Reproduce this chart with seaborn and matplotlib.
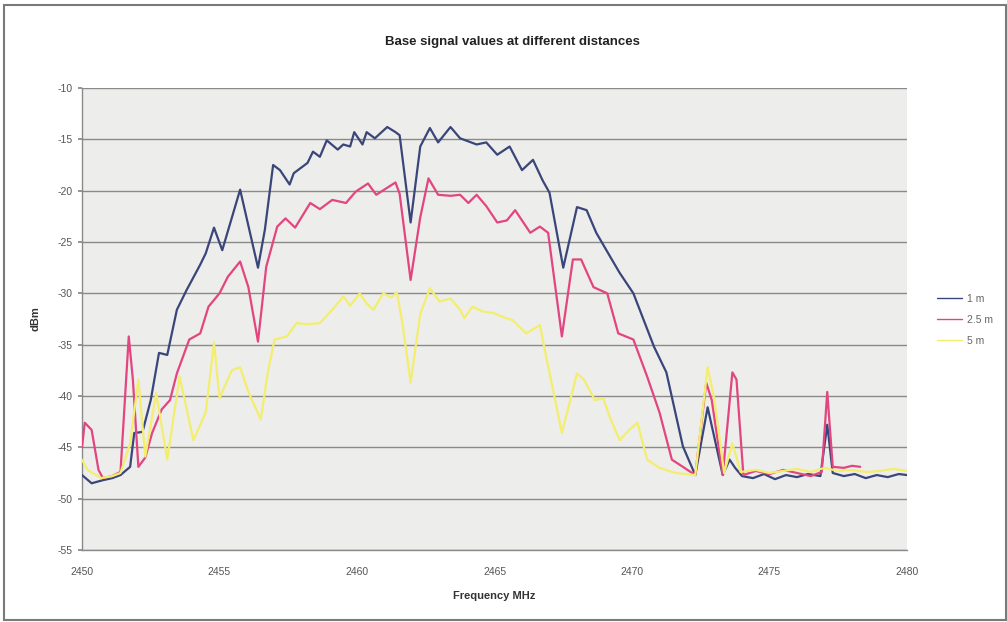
import numpy as np
import pandas as pd
import matplotlib
matplotlib.use("Agg")
import matplotlib.pyplot as plt
import seaborn as sns
from matplotlib.patches import Rectangle
from matplotlib.lines import Line2D

# ---- data ----
blue_f = [2450.0, 2450.35, 2450.76, 2451.1, 2451.4, 2451.75, 2451.9, 2452.2, 2452.5, 2452.8, 2453.1,
          2453.45, 2453.8, 2454.3, 2454.5, 2454.8, 2455.1, 2455.75, 2456.4, 2456.65, 2456.95, 2457.2,
          2457.55, 2457.7, 2458.2, 2458.4, 2458.65, 2458.9, 2459.3, 2459.5, 2459.75, 2459.9, 2460.2,
          2460.35, 2460.65, 2461.1, 2461.4, 2461.55, 2461.95, 2462.3, 2462.65, 2462.95, 2463.4, 2463.75,
          2464.35, 2464.7, 2465.1, 2465.55, 2466.0, 2466.4, 2466.75, 2467.0, 2467.5, 2468.0, 2468.35,
          2468.7, 2469.2, 2469.55, 2470.05, 2470.8, 2471.25, 2471.85, 2472.3, 2472.75, 2473.3, 2473.55,
          2473.75, 2474.0, 2474.4, 2474.8, 2475.2, 2475.6, 2476.0, 2476.4, 2476.85, 2477.1, 2477.3,
          2477.7, 2478.1, 2478.5, 2478.9, 2479.3, 2479.7, 2480.0]
blue_v = [-47.7, -48.5, -48.2, -48.0, -47.7, -46.9, -43.6, -43.5, -40.4, -35.8, -36.0,
          -31.6, -29.7, -27.2, -26.1, -23.6, -25.8, -19.9, -27.5, -23.8, -17.5, -18.0,
          -19.4, -18.3, -17.3, -16.2, -16.7, -15.1, -16.0, -15.5, -15.7, -14.3, -15.5,
          -14.3, -14.9, -13.8, -14.3, -14.6, -23.1, -15.7, -13.9, -15.3, -13.8, -14.9,
          -15.5, -15.3, -16.5, -15.7, -18.0, -17.0, -19.0, -20.2, -27.5, -21.6, -21.9,
          -24.1, -26.4, -28.0, -30.0, -35.2, -37.7, -44.9, -47.7, -41.1, -47.7, -46.2,
          -47.0, -47.8, -48.0, -47.6, -48.1, -47.7, -47.9, -47.6, -47.8, -42.8, -47.5,
          -47.8, -47.6, -48.0, -47.7, -47.9, -47.6, -47.7]

pink_f = [2450.0, 2450.1, 2450.35, 2450.6, 2450.76, 2451.1, 2451.4, 2451.7, 2451.85, 2452.05,
          2452.3, 2452.55, 2452.9, 2453.2, 2453.45, 2453.9, 2454.3, 2454.6, 2455.0, 2455.3, 2455.75,
          2456.05, 2456.4, 2456.7, 2457.1, 2457.4, 2457.75, 2458.3, 2458.65, 2459.1, 2459.6, 2459.95,
          2460.4, 2460.7, 2461.4, 2461.55, 2461.95, 2462.3, 2462.6, 2462.95, 2463.4, 2463.75, 2464.05,
          2464.35, 2464.7, 2465.1, 2465.45, 2465.75, 2466.3, 2466.65, 2466.95, 2467.45, 2467.85,
          2468.15, 2468.6, 2469.1, 2469.5, 2470.05, 2470.55, 2471.0, 2471.45, 2471.85, 2472.3, 2472.7,
          2472.9, 2473.3, 2473.65, 2473.8, 2474.05, 2474.5, 2475.0, 2475.5, 2476.0, 2476.5, 2476.9,
          2477.1, 2477.3, 2477.7, 2478.0, 2478.3]
pink_v = [-45.0, -42.6, -43.3, -47.2, -48.0, -47.8, -47.4, -34.2, -38.4, -46.9,
          -46.0, -43.6, -41.3, -40.4, -37.8, -34.5, -33.9, -31.3, -30.0, -28.4, -26.9,
          -29.4, -34.7, -27.4, -23.5, -22.7, -23.6, -21.2, -21.8, -20.9, -21.2, -20.1,
          -19.3, -20.4, -19.2, -20.3, -28.7, -22.6, -18.8, -20.4, -20.5, -20.4, -21.2,
          -20.4, -21.5, -23.1, -22.9, -21.9, -24.1, -23.5, -24.1, -34.2, -26.7,
          -26.7, -29.4, -30.0, -33.9, -34.5, -38.1, -41.6, -46.2, -46.9, -47.7, -38.7,
          -40.4, -47.7, -37.7, -38.4, -47.7, -47.3, -47.6, -47.2, -47.5, -47.8, -47.4,
          -39.6, -46.9, -47.0, -46.8, -46.9]

yel_f = [2450.0, 2450.2, 2450.7, 2451.1, 2451.4, 2451.75, 2452.05, 2452.3, 2452.7, 2453.1, 2453.55,
         2454.05, 2454.5, 2454.8, 2455.0, 2455.45, 2455.75, 2456.05, 2456.5, 2456.75, 2457.0, 2457.45,
         2457.8, 2458.2, 2458.65, 2459.1, 2459.5, 2459.75, 2460.1, 2460.35, 2460.6, 2460.95, 2461.25,
         2461.45, 2461.65, 2461.95, 2462.3, 2462.65, 2463.0, 2463.4, 2463.75, 2463.9, 2464.2, 2464.6,
         2464.95, 2465.3, 2465.65, 2466.15, 2466.65, 2466.85, 2467.45, 2468.0, 2468.25, 2468.65,
         2468.95, 2469.2, 2469.55, 2469.9, 2470.2, 2470.55, 2471.0, 2471.6, 2472.3, 2472.75, 2473.0,
         2473.35, 2473.65, 2473.95, 2474.5, 2475.0, 2475.5, 2476.0, 2476.5, 2477.0, 2477.5, 2478.0,
         2478.5, 2479.0, 2479.5, 2480.0]
yel_v = [-46.2, -47.2, -48.0, -47.8, -47.5, -44.6, -38.4, -45.9, -39.7, -46.2, -38.1,
         -44.3, -41.6, -34.8, -40.2, -37.5, -37.2, -39.6, -42.3, -37.8, -34.5, -34.2,
         -32.9, -33.0, -32.9, -31.6, -30.3, -31.2, -30.0, -31.0, -31.6, -30.0, -30.4,
         -29.9, -32.9, -38.7, -32.0, -29.5, -30.8, -30.5, -31.6, -32.4, -31.3, -31.8,
         -31.9, -32.3, -32.6, -33.9, -33.1, -35.8, -43.6, -37.8, -38.4, -40.4,
         -40.2, -42.1, -44.3, -43.3, -42.6, -46.2, -47.0, -47.5, -47.7, -37.2, -40.4,
         -47.5, -44.6, -47.4, -47.2, -47.5, -47.3, -47.1, -47.4, -47.0, -47.3, -47.2,
         -47.4, -47.3, -47.1, -47.3]

series_names = ["1 m", "2.5 m", "5 m"]
series_colors = ["#3a4679", "#e2457f", "#f3ee6e"]
x_ticks = [2450, 2455, 2460, 2465, 2470, 2475, 2480]
y_ticks = [-55, -50, -45, -40, -35, -30, -25, -20, -15, -10]

# ---- plotting ----
sns.set_theme(style="white")
plt.rcParams["font.family"] = ["Liberation Sans", "DejaVu Sans"]

fig = plt.figure(figsize=(10.07, 6.22), dpi=100)
fig.patch.set_facecolor("white")
ax = fig.add_axes([82 / 1007, 1 - 550 / 622, 825 / 1007, 462 / 622])
ax.set_facecolor("#ededeb")

frames = [
    pd.DataFrame({"freq": blue_f, "dBm": blue_v, "series": series_names[0]}),
    pd.DataFrame({"freq": pink_f, "dBm": pink_v, "series": series_names[1]}),
    pd.DataFrame({"freq": yel_f, "dBm": yel_v, "series": series_names[2]}),
]
df = pd.concat(frames, ignore_index=True)

for y in y_ticks:
    ax.axhline(y, color="#8a8a8a", lw=1.0, zorder=1)

sns.lineplot(data=df, x="freq", y="dBm", hue="series", hue_order=series_names,
             palette=series_colors, linewidth=1.6, ax=ax, legend=False,
             estimator=None, sort=False, zorder=3)

ax.set_xlim(2450, 2480)
ax.set_ylim(-55, -10)
ax.set_xticks(x_ticks)
ax.set_yticks(y_ticks)
ax.set_xticklabels([str(t) for t in x_ticks], fontsize=7.5, color="#555555")
ax.set_yticklabels([str(t) for t in y_ticks], fontsize=7.5, color="#555555")
ax.tick_params(axis="y", length=3, color="#888888", pad=4, direction="out", left=True)
ax.tick_params(axis="x", length=0, pad=12, bottom=False)
for name, sp in ax.spines.items():
    if name in ("left", "bottom"):
        sp.set_color("#8a8a8a")
        sp.set_linewidth(1.0)
    else:
        sp.set_visible(False)

ax.set_xlabel("Frequency MHz", fontsize=8, fontweight="bold", color="#333333", labelpad=10)
ax.set_ylabel("dBm", fontsize=8, fontweight="bold", color="#333333", labelpad=12)

fig.text(512 / 1007, 1 - 42 / 622, "Base signal values at different distances",
         ha="center", va="center", fontsize=9.5, fontweight="bold", color="#222222")

# legend
handles = [Line2D([0], [0], color=c, lw=1.0) for c in series_colors]
leg = fig.legend(handles, series_names, loc="center left",
                 bbox_to_anchor=(928 / 1007, 1 - 320 / 622), frameon=False,
                 fontsize=7.5, handlelength=2.4, handletextpad=0.4, labelspacing=1.05)
for t in leg.get_texts():
    t.set_color("#666666")

# outer frame of chart
fig.patches.append(Rectangle((4 / 1007, 2 / 622), 1 - 5 / 1007, 1 - 7 / 622,
                             transform=fig.transFigure, fill=False,
                             edgecolor="#7a7a7a", lw=1.5))

fig.savefig("out.png", dpi=100, facecolor="white")
